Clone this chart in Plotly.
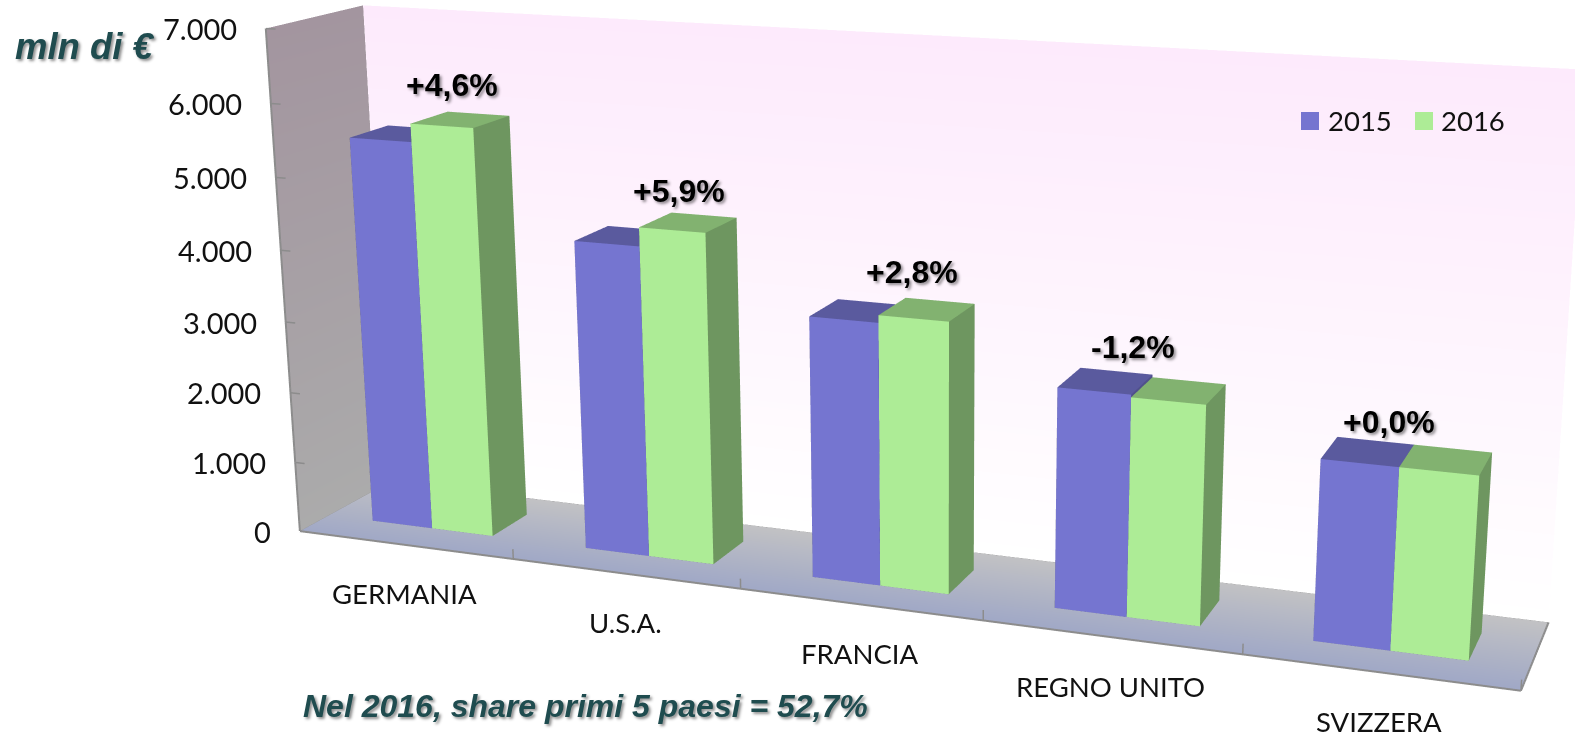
import plotly.graph_objects as go

# ---- data ----
categories = ["GERMANIA", "U.S.A.", "FRANCIA", "REGNO UNITO", "SVIZZERA"]
values_2015 = [5455, 4285, 3550, 2930, 2355]
values_2016 = [5705, 4540, 3650, 2895, 2355]
change_labels = ["+4,6%", "+5,9%", "+2,8%", "-1,2%", "+0,0%"]
z_ticks = [0, 1000, 2000, 3000, 4000, 5000, 6000, 7000]
z_tick_labels = ["0", "1.000", "2.000", "3.000", "4.000", "5.000", "6.000", "7.000"]
series_names = ["2015", "2016"]

# ---- styles ----
FRONT = ["#7575D0", "#ADEC96"]
TOP = ["#5A5A9E", "#82B270"]
SIDE = ["#50508C", "#6E9660"]
EDGE = "#8C8C8C"
TEAL = "#1F4C4F"
LABEL_FONT = "Lato, sans-serif"
BOLD_FONT = "Liberation Sans, Arial, sans-serif"
SHADOW = "2px 2px 3px rgba(0,0,0,0.45)"

# The scene is larger than the window so that the lens is long enough
W, H, TOP_OFF = 1838, 2206, 734
BAR_LO, BAR_HI = 0.212, 0.782    # group span inside a category
DEPTH_LO, DEPTH_HI = 0.31, 0.72  # bar depth on the floor
ZMAX = 7000
XMAX = len(categories)


def px(x):
    return x / W


def py(y):
    return 1 - (y + TOP_OFF) / H


fig = go.Figure()


def quad(x, y, z, colors):
    fig.add_trace(go.Mesh3d(
        x=x, y=y, z=z, i=[0, 0], j=[1, 2], k=[2, 3], vertexcolor=colors,
        flatshading=False, hoverinfo="skip", showscale=False,
        lighting=dict(ambient=1, diffuse=0, specular=0, roughness=1, fresnel=0),
    ))


# walls and floor
quad([0, XMAX, XMAX, 0], [1, 1, 1, 1], [0, 0, ZMAX, ZMAX],
     ["#FFFFFF", "#FFFFFF", "#FDEAFC", "#FDEAFC"])
quad([0, 0, 0, 0], [0, 1, 1, 0], [0, 0, ZMAX, ZMAX],
     ["#ABABAB", "#ABABAB", "#A3959F", "#A3959F"])
quad([0, XMAX, XMAX, 0], [0, 0, 1, 1], [0, 0, 0, 0],
     ["#A0A8C6", "#A0A8C6", "#C2C2C4", "#C2C2C4"])


def bar(x0, x1, v, s):
    xs = [x0, x1, x1, x0, x0, x1, x1, x0]
    ys = [DEPTH_LO, DEPTH_LO, DEPTH_HI, DEPTH_HI] * 2
    zs = [0, 0, 0, 0, v, v, v, v]
    i = [0, 0, 4, 4, 1, 1, 0, 0, 3, 3, 0, 0]
    j = [1, 2, 5, 6, 2, 6, 1, 5, 2, 6, 3, 7]
    k = [2, 3, 6, 7, 6, 5, 5, 4, 6, 7, 7, 4]
    fc = [SIDE[s]] * 2 + [TOP[s]] * 2 + [SIDE[s]] * 2 + [FRONT[s]] * 2 + [SIDE[s]] * 4
    fig.add_trace(go.Mesh3d(
        x=xs, y=ys, z=zs, i=i, j=j, k=k, facecolor=fc,
        flatshading=True, hoverinfo="skip", showscale=False,
        lighting=dict(ambient=1, diffuse=0, specular=0, roughness=1, fresnel=0),
    ))


for n in range(XMAX):
    mid = n + (BAR_LO + BAR_HI) / 2
    bar(n + BAR_LO, mid, values_2015[n], 0)
    bar(mid, n + BAR_HI, values_2016[n], 1)


def line(x, y, z, width=4):
    fig.add_trace(go.Scatter3d(x=x, y=y, z=z, mode="lines", hoverinfo="skip",
                               line=dict(color=EDGE, width=width), showlegend=False))


line([0, 0], [0, 0], [0, ZMAX])
line([0, XMAX], [0, 0], [0, 0])
line([XMAX, XMAX], [0, 1], [0, 0])
line([0, XMAX], [1, 1], [0, 0], 3)
line([0, 0], [0, 1], [0, 0], 3)
for t in z_ticks:
    tz = min(t, ZMAX - 1)
    line([0, 0.045], [0, 0], [tz, tz], 3)
for n in range(1, XMAX + 1):
    line([n, n], [0, 0], [0, 140], 3)

scene_ann = []
for t, lab in zip(z_ticks, z_tick_labels):
    scene_ann.append(dict(x=0, y=0, z=min(t, ZMAX - 1), text=lab, showarrow=False, xanchor="right",
                          yanchor="middle", xshift=-27, yshift=0,
                          font=dict(family=LABEL_FONT, size=29, color="#111111")))
for n, c in enumerate(categories):
    scene_ann.append(dict(x=n + 0.5, y=0, z=0, text=c, showarrow=False, xanchor="center",
                          yanchor="middle", yshift=-49,
                          font=dict(family=LABEL_FONT, size=27.5, color="#111111")))
label_dx = [23, 24, 20, -9, -18]
label_dy = [33, 29, 35, 38, 35]
for n, lab in enumerate(change_labels):
    scene_ann.append(dict(x=n + 0.5, y=0.5, z=max(values_2015[n], values_2016[n]), text=lab,
                          showarrow=False, xanchor="center", yanchor="middle",
                          xshift=label_dx[n], yshift=label_dy[n],
                          font=dict(family=BOLD_FONT, size=32, color="#000000", weight="bold",
                                    shadow=SHADOW)))

paper_ann = [
    dict(x=px(13), y=py(47), text="mln di €", xanchor="left",
         font=dict(family=BOLD_FONT, size=36.5, color=TEAL, weight="bold", style="italic", shadow=SHADOW)),
    dict(x=px(301), y=py(706), text="Nel 2016, share primi 5 paesi = 52,7%", xanchor="left",
         font=dict(family=BOLD_FONT, size=32, color=TEAL, weight="bold", style="italic", shadow=SHADOW)),
    dict(x=px(1326), y=py(120), text=series_names[0], xanchor="left",
         font=dict(family=LABEL_FONT, size=27.5, color="#111111")),
    dict(x=px(1439), y=py(120), text=series_names[1], xanchor="left",
         font=dict(family=LABEL_FONT, size=27.5, color="#111111")),
]
for a in paper_ann:
    a.update(xref="paper", yref="paper", yanchor="middle", showarrow=False)

shapes = [
    dict(type="rect", xref="paper", yref="paper", x0=px(1301), x1=px(1319), y0=py(112), y1=py(130),
         fillcolor=FRONT[0], line_width=0, layer="above"),
    dict(type="rect", xref="paper", yref="paper", x0=px(1415), x1=px(1433), y0=py(112), y1=py(130),
         fillcolor=FRONT[1], line_width=0, layer="above"),
]


def hidden(rng):
    return dict(visible=False, range=rng, autorange=False, showspikes=False)


fig.update_layout(
    width=W, height=H, margin=dict(l=0, r=0, t=0, b=0), autosize=False,
    paper_bgcolor="#FFFFFF", showlegend=False, hovermode=False,
    annotations=paper_ann, shapes=shapes,
    scene=dict(
        domain=dict(x=[0, 1], y=[0, 1]),
        xaxis=hidden([0, XMAX]), yaxis=hidden([0, 1]), zaxis=hidden([0, ZMAX]),
        aspectmode="manual", aspectratio=dict(x=1, y=0.1425, z=0.418),
        camera=dict(eye=dict(x=0.7145, y=-1.852, z=0.5104),
                    center=dict(x=0.0230, y=-0.0024, z=-0.0376),
                    up=dict(x=0.0019, y=0.0007, z=1),
                    projection=dict(type="perspective")),
        dragmode=False, annotations=scene_ann, bgcolor="rgba(0,0,0,0)",
    ),
)

post = f"""
var gd = document.getElementById('{{plot_id}}');
document.documentElement.style.overflow = 'hidden';
document.body.style.overflow = 'hidden';
document.body.style.margin = '0';
gd.style.position = 'absolute';
gd.style.left = '0';
gd.style.top = '-{TOP_OFF}px';
"""
fig.write_html("out.html", config=dict(displayModeBar=False, responsive=False), post_script=post)
